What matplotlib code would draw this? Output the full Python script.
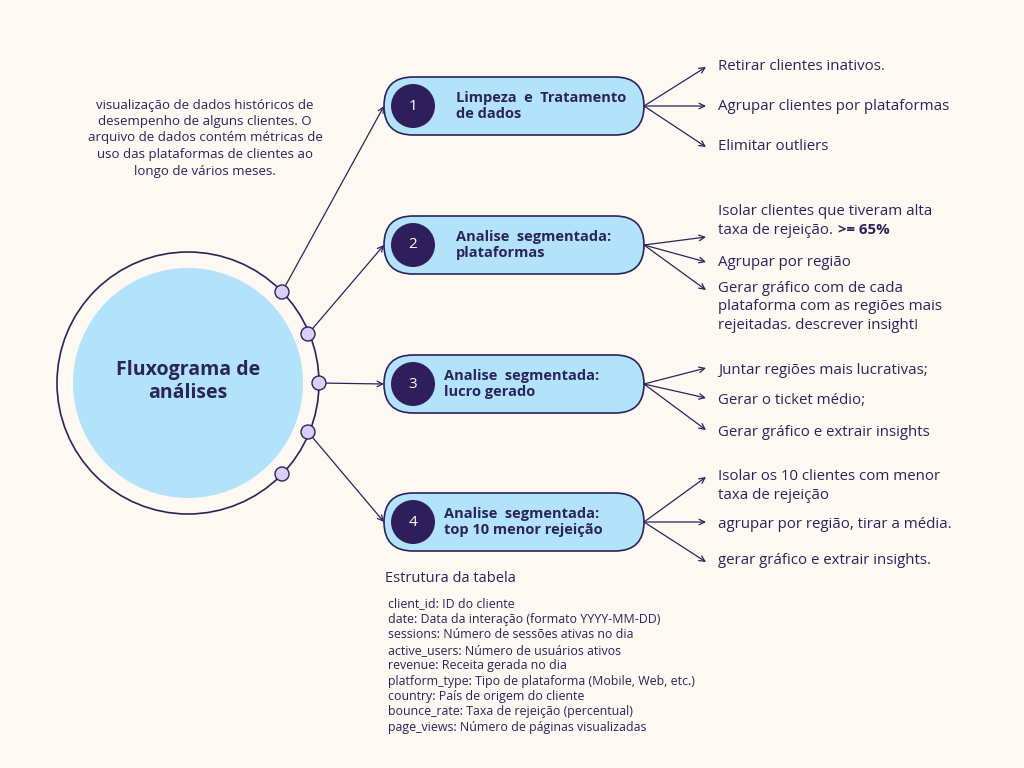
import matplotlib
matplotlib.use('Agg')
import matplotlib.pyplot as plt
from matplotlib.patches import Circle, FancyBboxPatch

plt.rcParams['font.family'] = ['Open Sans', 'DejaVu Sans']

INK = '#2b2459'
BLUE = '#b3e3fb'
BG = '#fdf8f2'

intro = ("visualização de dados históricos de\ndesempenho de alguns clientes. O\n"
         "arquivo de dados contém métricas de\nuso das plataformas de clientes ao\nlongo de vários meses.")
center_title = "Fluxograma de\nanálises"
step_titles = ["Limpeza  e  Tratamento\nde dados", "Analise  segmentada:\nplataformas",
               "Analise  segmentada:\nlucro gerado", "Analise  segmentada:\ntop 10 menor rejeição"]
step_items = [
    ["Retirar clientes inativos.", "Agrupar clientes por plataformas", "Elimitar outliers"],
    ["Isolar clientes que tiveram alta\ntaxa de rejeição.", "Agrupar por região",
     "Gerar gráfico com de cada\nplataforma com as regiões mais\nrejeitadas. descrever insight!"],
    ["Juntar regiões mais lucrativas;", "Gerar o ticket médio;", "Gerar gráfico e extrair insights"],
    ["Isolar os 10 clientes com menor\ntaxa de rejeição", "agrupar por região, tirar a média.",
     "gerar gráfico e extrair insights."],
]
bold_suffix = ">= 65%"
table_title = "Estrutura da tabela"
table_rows = ["client_id: ID do cliente", "date: Data da interação (formato YYYY-MM-DD)",
              "sessions: Número de sessões ativas no dia", "active_users: Número de usuários ativos",
              "revenue: Receita gerada no dia", "platform_type: Tipo de plataforma (Mobile, Web, etc.)",
              "country: País de origem do cliente", "bounce_rate: Taxa de rejeição (percentual)",
              "page_views: Número de páginas visualizadas"]

# layout (pixel coords)
box_y = [106, 245, 384, 522]
arrow_y = [[67, 106, 147], [237, 262, 290], [368, 398, 430], [477, 522, 562]]
text_y = [[67, 106, 147], [221, 262, 307], [370, 400, 432], [486, 525, 560]]
dots = [(282, 292), (308, 334), (319, 383), (308, 432), (282, 474)]
links = [(0, 0), (1, 1), (2, 2), (3, 3)]

fig = plt.figure(figsize=(10.24, 7.68), dpi=100)
fig.patch.set_facecolor(BG)
ax = fig.add_axes([0, 0, 1, 1])
ax.set_xlim(0, 1024)
ax.set_ylim(768, 0)
ax.axis('off')

ax.add_patch(Circle((188, 383), 131, fill=False, ec=INK, lw=1.2))
ax.add_patch(Circle((188, 383), 115, fc=BLUE, ec='none'))
ax.text(188, 382, center_title, ha='center', va='center', fontsize=14, fontweight='bold', color=INK)
ax.text(205, 138, intro, ha='center', va='center', fontsize=9.5, color=INK, linespacing=1.35)

for d, b in links:
    x0, y0 = dots[d]
    ax.annotate('', xy=(384, box_y[b]), xytext=(x0, y0),
                arrowprops=dict(arrowstyle='->', color=INK, lw=0.9, shrinkA=0, shrinkB=0))
for x, y in dots:
    ax.add_patch(Circle((x, y), 7, fc='#d8d0f6', ec=INK, lw=1, zorder=3))

bold_anchor = None
for i, y in enumerate(box_y):
    ax.add_patch(FancyBboxPatch((384, y - 29), 260, 58,
                                boxstyle='round,pad=0,rounding_size=29',
                                fc=BLUE, ec=INK, lw=1.2))
    ax.add_patch(Circle((413, y), 22, fc='#2e1f5c', ec='none', zorder=3))
    ax.text(413, y, str(i + 1), ha='center', va='center', color='white', fontsize=11, zorder=4)
    ax.text(456 if i < 2 else 444, y, step_titles[i], ha='left', va='center', fontsize=10.5,
            fontweight='bold', color=INK, linespacing=1.1)
    for j in range(3):
        ax.annotate('', xy=(706, arrow_y[i][j]), xytext=(644, y),
                    arrowprops=dict(arrowstyle='->', color=INK, lw=0.9, shrinkA=0, shrinkB=0))
        t = ax.text(718, text_y[i][j], step_items[i][j], ha='left', va='center',
                    fontsize=10.8, color=INK, linespacing=1.35)
        if i == 1 and j == 0:
            bold_anchor = t

# bold threshold after the second line of the first item in step 2
fig.canvas.draw()
r = fig.canvas.get_renderer()
last = ax.text(718, text_y[1][0] + 9, "taxa de rejeição.", ha='left', va='center',
               fontsize=10.8, color=BG, alpha=0)
bb = last.get_window_extent(r)
x_end = ax.transData.inverted().transform((bb.x1, bb.y0))[0]
ax.text(x_end + 5, text_y[1][0] + 9, bold_suffix, ha='left', va='center',
        fontsize=10.8, fontweight='bold', color=INK)

ax.text(385, 579, table_title, ha='left', va='center', fontsize=10.5, color=INK)
for k, row in enumerate(table_rows):
    ax.text(388, 604 + k * 15.4, row, ha='left', va='center', fontsize=8.9, color=INK)

fig.savefig('out.png', dpi=100, facecolor=BG)
